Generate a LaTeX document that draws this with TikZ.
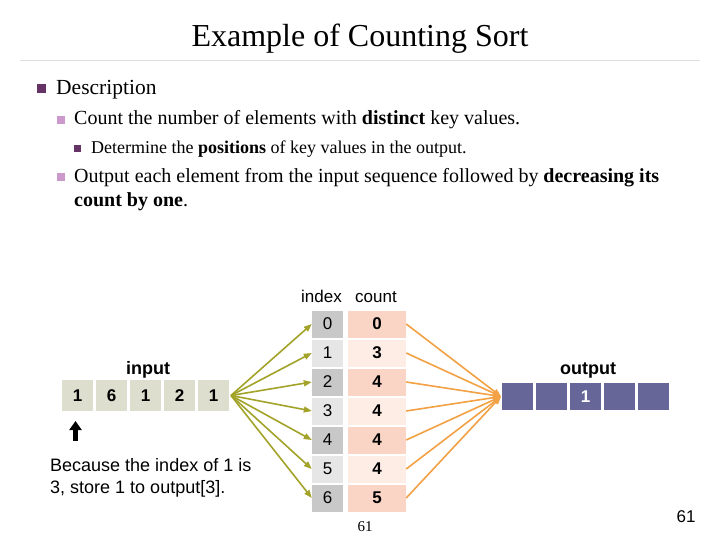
\documentclass[tikz,border=0pt]{standalone}
\usepackage{fontspec}
\setmainfont{Liberation Serif}
\setsansfont{Liberation Sans}
\usepackage{xcolor}
\usetikzlibrary{arrows.meta,positioning}
\definecolor{idxdark}{HTML}{C8C8C8}
\definecolor{idxlight}{HTML}{E6E6E6}
\definecolor{cntdark}{HTML}{FAD5C5}
\definecolor{cntlight}{HTML}{FDEDE5}
\definecolor{inbox}{HTML}{DEDECE}
\definecolor{outbox}{HTML}{666699}
\definecolor{olive}{HTML}{A3A32A}
\definecolor{orangeln}{HTML}{F2A144}
\definecolor{bulletA}{HTML}{663366}
\definecolor{bulletB}{HTML}{CC99CC}
\tikzset{
  % bullets of the text part
  bulA/.style={fill=bulletA,minimum size=9pt,inner sep=0pt},
  bulB/.style={fill=bulletB,minimum size=8pt,inner sep=0pt},
  bulC/.style={fill=bulletA,minimum size=7pt,inner sep=0pt},
  txt/.style={anchor=base west,inner sep=0pt},
  % table cells
  cell/.style={inner sep=0pt,font=\sffamily\fontsize{17}{17}\selectfont},
  idxD/.style={cell,fill=idxdark,minimum width=31pt,minimum height=27pt},
  idxL/.style={idxD,fill=idxlight},
  cntD/.style={cell,fill=cntdark,minimum width=58pt,minimum height=27pt,font=\sffamily\bfseries\fontsize{17}{17}\selectfont},
  cntL/.style={cntD,fill=cntlight},
  inc/.style={cell,fill=inbox,minimum width=31pt,minimum height=31pt,font=\sffamily\bfseries\fontsize{17}{17}\selectfont},
  outc/.style={cell,fill=outbox,minimum width=31pt,minimum height=27pt,text=white,font=\sffamily\bfseries\fontsize{17}{17}\selectfont},
  % connectors
  toidx/.style={olive,line width=1.6pt,-{Triangle[length=8pt,width=6pt]}},
  toout/.style={orangeln,line width=1.6pt,-{Triangle[length=8pt,width=6pt]}},
}

\begin{document}
\begin{tikzpicture}[x=1pt,y=-1pt,
  every node/.style={font=\sffamily\fontsize{17}{20}\selectfont},
  lbl/.style={anchor=base,inner sep=0pt},
]
\useasboundingbox[fill=white] (0,0) rectangle (720,540);

%% ===== title and text =====
\node[lbl,font=\fontsize{32}{38}\selectfont] (title) at (360,47) {Example of Counting Sort};
\draw[gray!25,line width=0.8pt] (20,60) -- (700,60);

\node[bulA] (b1) at (41.5,88.5) {};
\node[txt,font=\fontsize{21.5}{24}\selectfont] (t1) at (56,95) {Description};
\node[bulB] (b2) at (60.5,120.5) {};
\node[txt,font=\fontsize{20}{24}\selectfont] (t2) at (74,125) {Count the number of elements with \textbf{distinct} key values.};
\node[bulC] (b3) at (77,148.5) {};
\node[txt,font=\fontsize{18}{20}\selectfont] (t3) at (91,154) {Determine the \textbf{positions} of key values in the output.};
\node[bulB] (b4) at (60.5,177) {};
\node[txt,font=\fontsize{20}{24}\selectfont,align=left] (t4) at (74,207)
  {Output each element from the input sequence followed by \textbf{decreasing its}\\\textbf{count by one}.};

%% ===== input =====
\def\yIn{395.5}
\node[inc] (in1) at (77.5,\yIn) {1};
\node[inc] (in2) at (111.5,\yIn) {6};
\node[inc] (in3) at (145.5,\yIn) {1};
\node[inc] (in4) at (179.5,\yIn) {2};
\node[inc] (in5) at (213.5,\yIn) {1};
\node[lbl,font=\sffamily\bfseries\fontsize{18}{18}\selectfont] at (148,374) {input};
\coordinate (hubL) at (231,\yIn);

\coordinate (upS) at (75.5,441);
\coordinate (upE) at (75.5,421);
\draw[line width=5.5pt,-{Triangle[length=9pt,width=12pt]}] (upS) -- (upE);
\node[anchor=base west,align=left,inner sep=0pt,font=\sffamily\fontsize{18}{22}\selectfont]
  (why) at (50,493) {Because the index of 1 is\\3, store 1 to output[3].};

%% ===== index / count table =====
\def\xI{327.5} \def\xC{377}
\node[lbl] at (\xI-6,302) {index};
\node[lbl] at (\xC-1,302) {count};
\node[idxD] (i0) at (\xI,324) {0}; \node[cntD] (c0) at (\xC,324) {0};
\node[idxL] (i1) at (\xI,353) {1}; \node[cntL] (c1) at (\xC,353) {3};
\node[idxD] (i2) at (\xI,382) {2}; \node[cntD] (c2) at (\xC,382) {4};
\node[idxL] (i3) at (\xI,411) {3}; \node[cntL] (c3) at (\xC,411) {4};
\node[idxD] (i4) at (\xI,440) {4}; \node[cntD] (c4) at (\xC,440) {4};
\node[idxL] (i5) at (\xI,469) {5}; \node[cntL] (c5) at (\xC,469) {4};
\node[idxD] (i6) at (\xI,498) {6}; \node[cntD] (c6) at (\xC,498) {5};

%% ===== output =====
\def\yOut{396.5}
\node[outc] (o1) at (517.5,\yOut) {};
\node[outc] (o2) at (551.5,\yOut) {};
\node[outc] (o3) at (585.5,\yOut) {1};
\node[outc] (o4) at (619.5,\yOut) {};
\node[outc] (o5) at (653.5,\yOut) {};
\node[lbl,font=\sffamily\bfseries\fontsize{18}{18}\selectfont] at (588,374) {output};
\coordinate (hubR) at (501,\yOut);

%% ===== connectors =====
\foreach \k in {0,...,6}{
  \draw[toidx] (hubL) -- (i\k.west);
  \draw[toout] (c\k.east) -- (hubR);
}

%% page numbers
\node[lbl,font=\fontsize{15}{15}\selectfont] at (365,531) {61};
\node[lbl,font=\sffamily\fontsize{17}{17}\selectfont] at (686,522) {61};
\end{tikzpicture}
\end{document}
